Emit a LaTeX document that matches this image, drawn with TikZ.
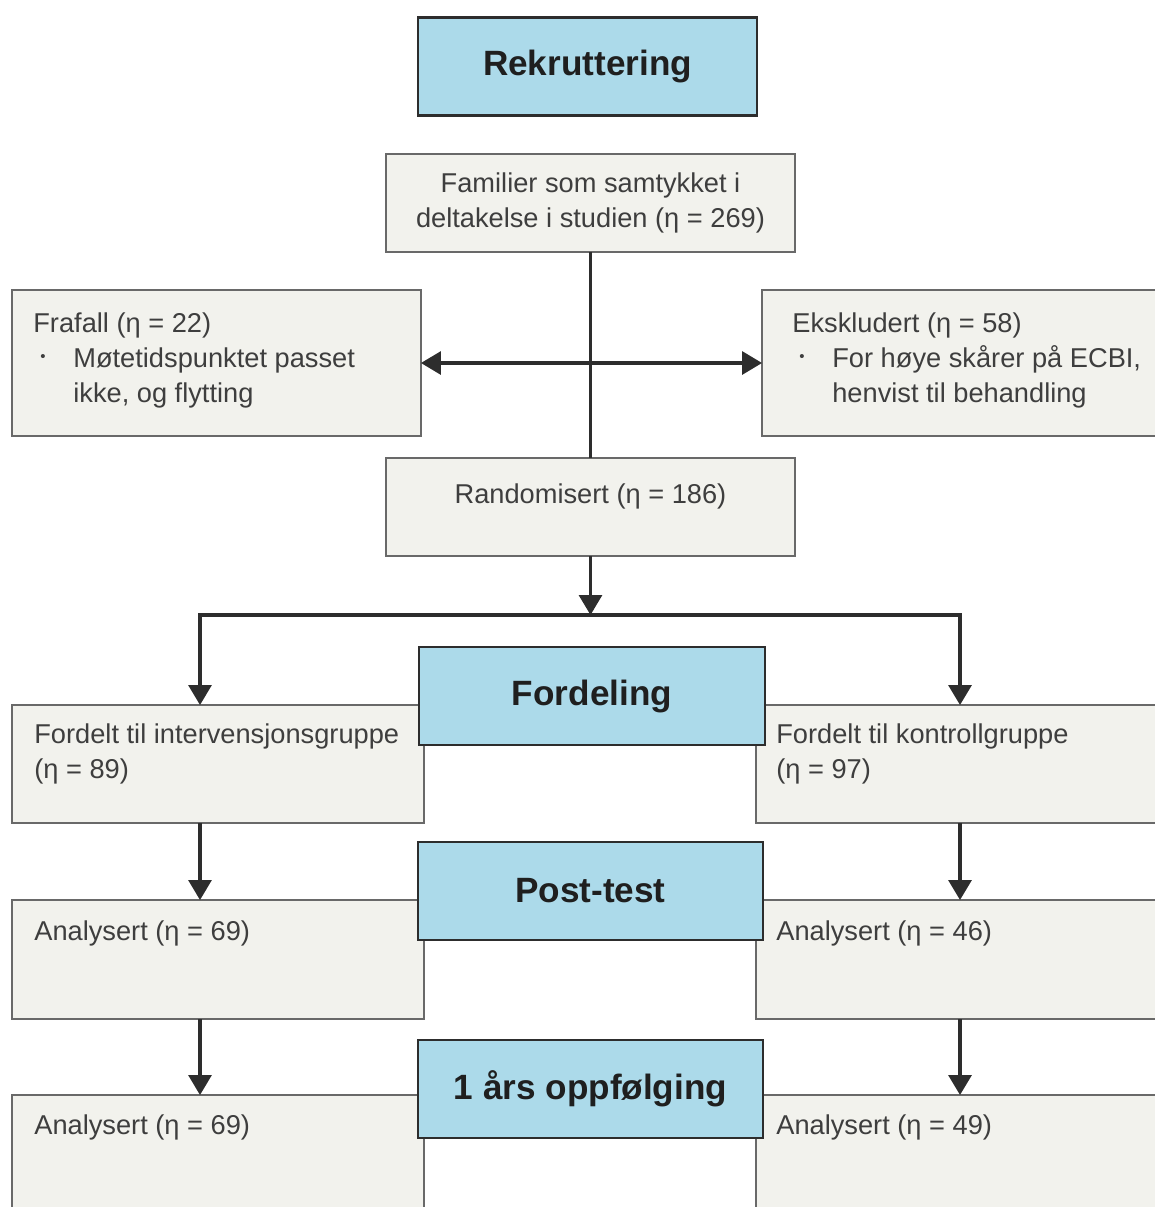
\documentclass[tikz,border=0pt]{standalone}
\usepackage{fontspec}
\setmainfont{Liberation Sans}
\usetikzlibrary{calc,arrows.meta}

\definecolor{hdrblue}{RGB}{172,218,234}
\definecolor{boxgray}{RGB}{242,242,237}
\definecolor{edgegray}{RGB}{105,105,105}
\definecolor{linegray}{RGB}{45,45,45}
\definecolor{txtgray}{RGB}{62,62,62}

\newcommand{\bulletitem}{\makebox[0.8cm][l]{\hspace{0.14cm}\raisebox{0.22em}{\scalebox{0.55}{•}}}}

\begin{document}
\begin{tikzpicture}[x=0.02cm,y=-0.02cm,
  infobox/.style={draw=edgegray, fill=boxgray, line width=1.2pt, inner sep=0, outer sep=0},
  hdrbox/.style={draw=linegray, fill=hdrblue, line width=1.4pt, inner sep=0, outer sep=0,
    minimum height=1.96cm, text=black!88, font=\fontsize{20}{24}\selectfont\bfseries},
  infotxt/.style={inner sep=0, align=left, anchor=north west, text=txtgray,
    font=\fontsize{15.5}{20}\selectfont},
  flow/.style={draw=linegray, line width=1.8pt},
  flowarrow/.style={-{Triangle[length=0.4cm,width=0.46cm]}},
  flowboth/.style={{Triangle[length=0.4cm,width=0.46cm]}-{Triangle[length=0.4cm,width=0.46cm]}}
]
\useasboundingbox (0,0) rectangle (1155,1207);
\clip (0,0) rectangle (1155,1207);

% grey boxes
\node[infobox, minimum width=8.18cm, minimum height=1.96cm] (familier) at (590.5,203) {};
\node[infobox, minimum width=8.18cm, minimum height=2.92cm] (frafall) at (216.5,363) {};
\node[infobox, minimum width=8.16cm, minimum height=2.92cm] (eksklud) at (966,363) {};
\node[infobox, minimum width=8.18cm, minimum height=1.96cm] (random) at (590.5,507) {};

\node[infobox, minimum width=8.24cm, minimum height=2.36cm] (interv) at (218,764) {};
\node[infobox, minimum width=8.28cm, minimum height=2.36cm] (kontroll) at (963,764) {};
\node[infobox, minimum width=8.24cm, minimum height=2.38cm] (postL) at (218,959.5) {};
\node[infobox, minimum width=8.28cm, minimum height=2.38cm] (postR) at (963,959.5) {};
\node[infobox, minimum width=8.24cm, minimum height=2.7cm] (oppfL) at (218,1162.5) {};
\node[infobox, minimum width=8.28cm, minimum height=2.7cm] (oppfR) at (963,1162.5) {};

% texts
\node[infotxt, anchor=center, align=center] (familier-txt) at (familier) {Familier som samtykket i\\deltakelse i studien (η = 269)};
\node[infotxt] (frafall-txt) at (33,312) {Frafall (η = 22)\\\bulletitem Møtetidspunktet passet\\\hspace{0.8cm}ikke, og flytting};
\node[infotxt] (eksklud-txt) at (792,312) {Ekskludert (η = 58)\\\bulletitem For høye skårer på ECBI,\\\hspace{0.8cm}henvist til behandling};
\node[infotxt, anchor=north] (random-txt) at (590.5,483) {Randomisert (η = 186)};

\node[infotxt] (interv-txt) at (34,723) {Fordelt til intervensjonsgruppe\\(η = 89)};
\node[infotxt] (kontroll-txt) at (776,723) {Fordelt til kontrollgruppe\\(η = 97)};
\node[infotxt] (postL-txt) at (34,920) {Analysert (η = 69)};
\node[infotxt] (postR-txt) at (776,920) {Analysert (η = 46)};
\node[infotxt] (oppfL-txt) at (34,1114) {Analysert (η = 69)};
\node[infotxt] (oppfR-txt) at (776,1114) {Analysert (η = 49)};

% connectors
\coordinate (split) at (590.5,615);
\coordinate (splitL) at (200,615);
\coordinate (splitR) at (960,615);

\draw[flow] (familier.south) -- (random.north);
\draw[flow,flowboth] (frafall.east) -- (eksklud.west);
\draw[flow,flowarrow] (random.south) -- (split);
\draw[flow,flowboth] (splitL |- interv.north) -- (splitL) -- (splitR) -- (splitR |- kontroll.north);
\draw[flow,flowarrow] (splitL |- interv.south) -- (splitL |- postL.north);
\draw[flow,flowarrow] (splitR |- kontroll.south) -- (splitR |- postR.north);
\draw[flow,flowarrow] (splitL |- postL.south) -- (splitL |- oppfL.north);
\draw[flow,flowarrow] (splitR |- postR.south) -- (splitR |- oppfR.north);

% blue headers
\node[hdrbox, minimum width=6.78cm] (rekrut) at (587.5,66.5) {Rekruttering};
\node[hdrbox, minimum width=6.92cm] (fordeling) at (592,696) {Fordeling};
\node[hdrbox, minimum width=6.9cm] (posttest) at (590.5,891) {Post-test};
\node[hdrbox, minimum width=6.9cm] (oppf) at (590.5,1089) {1 års oppfølging};

\end{tikzpicture}
\end{document}
